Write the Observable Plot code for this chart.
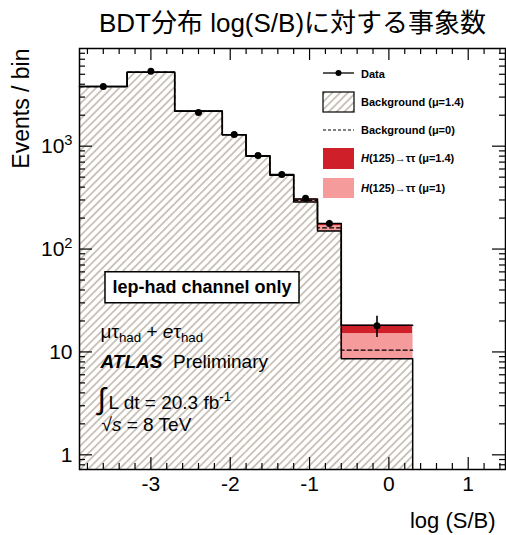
<!DOCTYPE html>
<html><head><meta charset="utf-8">
<script src="https://cdn.jsdelivr.net/npm/d3@7"></script>
<script src="https://cdn.jsdelivr.net/npm/@observablehq/plot@0.6"></script>
<style>
body{margin:0;background:#fff;font-family:"Liberation Sans",Arial,sans-serif;}
#title{height:40px;box-sizing:border-box;padding:8px 0 0 79px;width:506px;text-align:center;font-size:26px;line-height:30px;font-family:"Liberation Sans","Noto Sans CJK JP",sans-serif;color:#000;white-space:nowrap;}
</style></head><body>
<div id="title">BDT分布 log(S/B)に対する事象数</div>
<div id="chart"></div>
<script>
// ---- data ----
const binEdges   = [-3.9, -3.3, -2.7, -2.1, -1.8, -1.5, -1.2, -0.9, -0.6, 0.3];
const bkgMu14    = [3800, 5230, 2190, 1290, 800, 522, 286, 150, 8.6];
const higgsMu14  = [0.3, 0.8, 1.5, 3, 5, 8, 20, 27, 9.6];
const higgsMu1   = [0.2, 0.6, 1.1, 2.1, 3.6, 5.7, 14, 19, 6.5];
const bkgMu0     = [3800, 5240, 2195, 1295, 808, 530, 297, 161, 10.4];
const dataCounts = [3800, 5350, 2125, 1300, 812, 530, 312, 177, 18];
const dataErr    = [62, 73, 46, 36, 28, 23, 18, 13, 4.2];
const xTickValues = [-3, -2, -1, 0, 1];
const yTickValues = [1, 10, 100, 1000];
const xDomain = [-3.9, 1.47];
const yDomain = [0.72, 8900];
const legendLabels = ["Data", "Background (μ=1.4)", "Background (μ=0)", "*{H}(125)→ττ (μ=1.4)", "*{H}(125)→ττ (μ=1)"];
const annotations = ["lep-had channel only", "μτ_{had} + *{e}τ_{had}", "#{ATLAS}  Preliminary", "L dt = 20.3 fb^{-1}", "√*{s} = 8 TeV"];

const FONT = '"Liberation Sans", Arial, Helvetica, sans-serif';
const RED = "#cf1f28", PINK = "#f69b9c";
const frameW = 426, frameH = 421;

const n = bkgMu14.length;
const bins = d3.range(n).map(i => ({
  x1: binEdges[i], x2: binEdges[i + 1], xc: (binEdges[i] + binEdges[i + 1]) / 2,
  base: yDomain[0], bkg: bkgMu14[i], top14: bkgMu14[i] + higgsMu14[i], top1: bkgMu14[i] + higgsMu1[i],
  bkg0: bkgMu0[i], data: dataCounts[i], lo: dataCounts[i] - dataErr[i], hi: dataCounts[i] + dataErr[i]
}));
const steps = (key, drop) => {
  const pts = bins.map(b => ({x: b.x1, y: b[key]}));
  pts.push({x: binEdges[n], y: bins[n - 1][key]});
  if (drop) pts.push({x: binEdges[n], y: yDomain[0]});
  return pts;
};
const xMinor = d3.range(-38, 15, 2).map(v => v / 10).filter(v => !Number.isInteger(v));
const yMinor = [];
[0.1, 1, 10, 100, 1000].forEach(d => d3.range(2, 10).forEach(k => { const v = d * k; if (v > yDomain[0] && v < yDomain[1]) yMinor.push(v); }));

const yFmt = d => d === 1 ? "1" : d === 10 ? "10" : "10^{" + Math.round(Math.log10(d)) + "}";

const plot = Plot.plot({
  width: 506, height: 495,
  marginLeft: 79, marginRight: 1, marginTop: 8, marginBottom: 66,
  style: {fontFamily: FONT, fontSize: "21px", color: "black", background: "white", overflow: "visible"},
  x: {domain: xDomain, ticks: xTickValues, tickSize: 0, tickPadding: 7, tickFormat: d => String(d), label: null},
  y: {type: "log", domain: yDomain, ticks: yTickValues, tickSize: 0, tickPadding: 7, tickFormat: yFmt, label: null},
  marks: [
    Plot.rect(bins, {x1: "x1", x2: "x2", y1: "base", y2: "bkg", fill: "url(#hatch)"}),
    Plot.rect(bins, {x1: "x1", x2: "x2", y1: "bkg", y2: "top14", fill: RED}),
    Plot.rect(bins, {x1: "x1", x2: "x2", y1: "bkg", y2: "top1", fill: PINK}),
    Plot.line(steps("bkg0", false), {x: "x", y: "y", curve: "step-after", stroke: "black", strokeWidth: 1.2, strokeDasharray: "4,3"}),
    Plot.line(steps("bkg", true), {x: "x", y: "y", curve: "step-after", stroke: "black", strokeWidth: 1.5}),
    Plot.line(steps("top14", false), {x: "x", y: "y", curve: "step-after", stroke: "black", strokeWidth: 1.5}),
    Plot.ruleX(bins, {x: "xc", y1: "lo", y2: "hi", stroke: "black", strokeWidth: 1.6}),
    Plot.dot(bins, {x: "xc", y: "data", r: 3.5, fill: "black", stroke: "none"}),
    // ticks (inward, all four sides)
    Plot.ruleX(xTickValues, {insetTop: frameH - 12, stroke: "black", strokeWidth: 1.2}),
    Plot.ruleX(xTickValues, {insetBottom: frameH - 12, stroke: "black", strokeWidth: 1.2}),
    Plot.ruleX(xMinor, {insetTop: frameH - 6, stroke: "black", strokeWidth: 1.2}),
    Plot.ruleX(xMinor, {insetBottom: frameH - 6, stroke: "black", strokeWidth: 1.2}),
    Plot.ruleY(yTickValues, {insetRight: frameW - 13, stroke: "black", strokeWidth: 1.2}),
    Plot.ruleY(yTickValues, {insetLeft: frameW - 13, stroke: "black", strokeWidth: 1.2}),
    Plot.ruleY(yMinor, {insetRight: frameW - 6, stroke: "black", strokeWidth: 1.2}),
    Plot.ruleY(yMinor, {insetLeft: frameW - 6, stroke: "black", strokeWidth: 1.2}),
    Plot.frame({stroke: "black", strokeWidth: 1.5}),
    // axis titles
    Plot.text(["Events / bin"], {frameAnchor: "top-left", dx: -58, dy: 0, rotate: -90, textAnchor: "end", lineAnchor: "middle", fontSize: 23}),
    Plot.text(["log (S/B)"], {frameAnchor: "bottom-right", dx: -10, dy: 51, textAnchor: "end", lineAnchor: "middle", fontSize: 22}),
    // annotations
    Plot.text([annotations[0]], {frameAnchor: "top-left", dx: 122.5, dy: 239, textAnchor: "middle", lineAnchor: "middle", fontSize: 18, fontWeight: "bold"}),
    Plot.text([annotations[1]], {frameAnchor: "top-left", dx: 21, dy: 283, textAnchor: "start", lineAnchor: "middle", fontSize: 19}),
    Plot.text([annotations[2]], {frameAnchor: "top-left", dx: 21, dy: 313, textAnchor: "start", lineAnchor: "middle", fontSize: 19}),
    Plot.text(["∫"], {frameAnchor: "top-left", dx: 18, dy: 351, textAnchor: "start", lineAnchor: "middle", fontSize: 30}),
    Plot.text([annotations[3]], {frameAnchor: "top-left", dx: 29, dy: 354, textAnchor: "start", lineAnchor: "middle", fontSize: 19}),
    Plot.text([annotations[4]], {frameAnchor: "top-left", dx: 22, dy: 376, textAnchor: "start", lineAnchor: "middle", fontSize: 19})
  ]
});
document.getElementById("chart").appendChild(plot);

const svg = d3.select(plot);
// hatch pattern
const defs = svg.insert("defs", ":first-child");
const pat = defs.append("pattern").attr("id", "hatch").attr("patternUnits", "userSpaceOnUse")
  .attr("width", 5.5).attr("height", 5.5).attr("patternTransform", "rotate(45)");
pat.append("rect").attr("width", 5.5).attr("height", 5.5).attr("fill", "#fff");
pat.append("line").attr("x1", 2.75).attr("y1", -1).attr("x2", 2.75).attr("y2", 6.5).attr("stroke", "#c2b9ae").attr("stroke-width", 1.6);

// rich text: ^{sup} _{sub} *{italic} #{bold italic}
function richText(el, str) {
  const sel = d3.select(el);
  sel.text(null);
  const re = /([\^_*#])\{([^}]*)\}/g;
  let last = 0, m, pending = 0;
  const plain = t => {
    if (!t) return;
    const ts = sel.append("tspan").text(t);
    if (pending) { ts.attr("dy", pending + "em"); pending = 0; }
  };
  while ((m = re.exec(str))) {
    plain(str.slice(last, m.index));
    const ts = sel.append("tspan").text(m[2]);
    if (m[1] === "^") { ts.attr("font-size", "70%").attr("dy", (-0.55 + (pending ? pending / 0.7 : 0)) + "em"); pending = 0.385; }
    else if (m[1] === "_") { ts.attr("font-size", "70%").attr("dy", (0.35 + (pending ? pending / 0.7 : 0)) + "em"); pending = -0.245; }
    else {
      if (pending) { ts.attr("dy", pending + "em"); pending = 0; }
      ts.attr("font-style", "italic");
      if (m[1] === "#") ts.attr("font-weight", "bold");
    }
    last = re.lastIndex;
  }
  plain(str.slice(last));
}
svg.selectAll("text").each(function() {
  const t = this.textContent;
  if (/[\^_*#]\{/.test(t)) richText(this, t);
});

// white box around the channel label
svg.selectAll("text").filter(function() { return this.textContent === annotations[0]; }).each(function() {
  const bb = this.getBBox();
  const cy = bb.y + bb.height / 2;
  d3.select(this.parentNode).insert("rect", () => this)
    .attr("transform", this.getAttribute("transform"))
    .attr("x", bb.x - 7.5).attr("y", cy - 15.5).attr("width", bb.width + 15).attr("height", 31)
    .attr("fill", "white").attr("stroke", "black").attr("stroke-width", 1.5);
});

// legend (svg coordinates = page y - 40)
const L = svg.append("g").attr("font-family", FONT).attr("font-size", 11).attr("font-weight", "bold").attr("text-anchor", "start");
const oy = -40;
L.append("line").attr("x1", 323).attr("x2", 354).attr("y1", 73 + oy).attr("y2", 73 + oy).attr("stroke", "black").attr("stroke-width", 1.3);
L.append("circle").attr("cx", 338.5).attr("cy", 73 + oy).attr("r", 3).attr("fill", "black");
L.append("rect").attr("x", 323).attr("y", 92 + oy).attr("width", 31).attr("height", 20).attr("fill", "url(#hatch)").attr("stroke", "black").attr("stroke-width", 1.2);
L.append("line").attr("x1", 323).attr("x2", 354).attr("y1", 130 + oy).attr("y2", 130 + oy).attr("stroke", "black").attr("stroke-width", 1.1).attr("stroke-dasharray", "3,2");
L.append("rect").attr("x", 323).attr("y", 148 + oy).attr("width", 31).attr("height", 21).attr("fill", RED);
L.append("rect").attr("x", 323).attr("y", 178 + oy).attr("width", 31).attr("height", 20).attr("fill", PINK);
const ly = [74, 102, 130, 158, 188];
legendLabels.forEach((lab, i) => {
  const t = L.append("text").attr("x", 361).attr("y", ly[i] + oy).attr("dy", "0.35em").attr("text-anchor", "start");
  richText(t.node(), lab);
});
</script>
</body></html>
